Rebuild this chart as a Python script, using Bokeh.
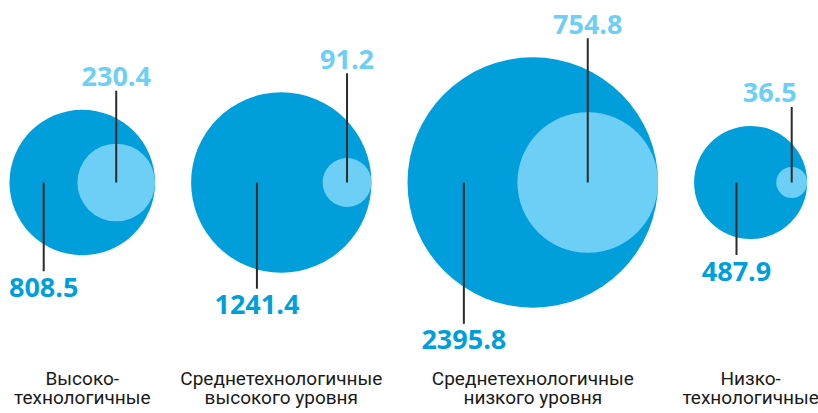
import numpy as np
from bokeh.plotting import figure
from bokeh.models import ColumnDataSource, Range1d
from bokeh.core.properties import value
from bokeh.embed import file_html
from bokeh.resources import INLINE

# ---- data ----
category_line1 = ["Высоко-", "Среднетехнологичные", "Среднетехнологичные", "Низко-"]
category_line2 = ["технологичные", "высокого уровня", "низкого уровня", "технологичные"]
total_values = [808.5, 1241.4, 2395.8, 487.9]
part_values = [230.4, 91.2, 754.8, 36.5]

# ---- layout / style ----
W, H = 818, 413
K = 2.56            # px radius per sqrt(value)
X_START = 9
GAP = 36
CY = 182
TEXT_DY = -9        # renderer baseline correction
BIG_LEADER_FRAC = [-0.53, -0.27, -0.55, -0.25]
SMALL_LABEL_DX = [0, 0, 0, -22]
DARK = "#009FDB"
LIGHT = "#6DCFF6"
LINE = "#2b2b2b"
TXT = "#1a1a1a"

R = K * np.sqrt(np.array(total_values))
r = K * np.sqrt(np.array(part_values))
cx = []
pos = X_START
for Ri in R:
    cx.append(pos + Ri)
    pos += 2 * Ri + GAP
cx = np.array(cx)
cy = np.full(len(cx), CY)
sx = cx + R - r

big_lx = cx + np.array(BIG_LEADER_FRAC) * R
big_ly1 = cy + R + 16
small_ly1 = cy - R - 19

src = ColumnDataSource(dict(
    cx=cx, cy=cy, R=R, sx=sx, r=r,
    blx=big_lx, bly1=big_ly1, sly1=small_ly1,
    blabel=[f"{v}" for v in total_values],
    slabel=[f"{v}" for v in part_values],
    blabel_y=big_ly1 + 25 + TEXT_DY,
    slabel_x=sx + np.array(SMALL_LABEL_DX),
    slabel_y=small_ly1 - 5 + TEXT_DY,
    l1=category_line1, l2=category_line2,
    l1y=np.full(len(cx), 387.0 + TEXT_DY), l2y=np.full(len(cx), 406.0 + TEXT_DY),
))

p = figure(width=W, height=H, output_backend="svg", toolbar_location=None,
           x_range=Range1d(0, W), y_range=Range1d(H, 0),
           min_border=0, min_border_left=0, min_border_right=0,
           min_border_top=0, min_border_bottom=0)
p.axis.visible = False
p.grid.visible = False
p.outline_line_color = None
p.background_fill_color = "white"
p.border_fill_color = "white"

p.circle(x="cx", y="cy", radius="R", source=src, fill_color=DARK, line_color=None)
p.circle(x="sx", y="cy", radius="r", source=src, fill_color=LIGHT, line_color=None)

p.segment(x0="blx", y0="cy", x1="blx", y1="bly1", source=src, line_color=LINE, line_width=2)
p.segment(x0="sx", y0="cy", x1="sx", y1="sly1", source=src, line_color=LINE, line_width=2)

p.text(x="blx", y="blabel_y", text="blabel", source=src, text_align="center",
       text_baseline="alphabetic", text_color=DARK, text_font=value("Open Sans"),
       text_font_style="bold", text_font_size="27px")
p.text(x="slabel_x", y="slabel_y", text="slabel", source=src, text_align="center",
       text_baseline="alphabetic", text_color=LIGHT, text_font=value("Open Sans"),
       text_font_style="bold", text_font_size="27px")

p.text(x="cx", y="l1y", text="l1", source=src, text_align="center",
       text_baseline="alphabetic", text_color=TXT, text_font=value("Roboto"),
       text_font_size="19px")
p.text(x="cx", y="l2y", text="l2", source=src, text_align="center",
       text_baseline="alphabetic", text_color=TXT, text_font=value("Roboto"),
       text_font_size="19px")

open("out.html", "w").write(file_html(p, INLINE))
